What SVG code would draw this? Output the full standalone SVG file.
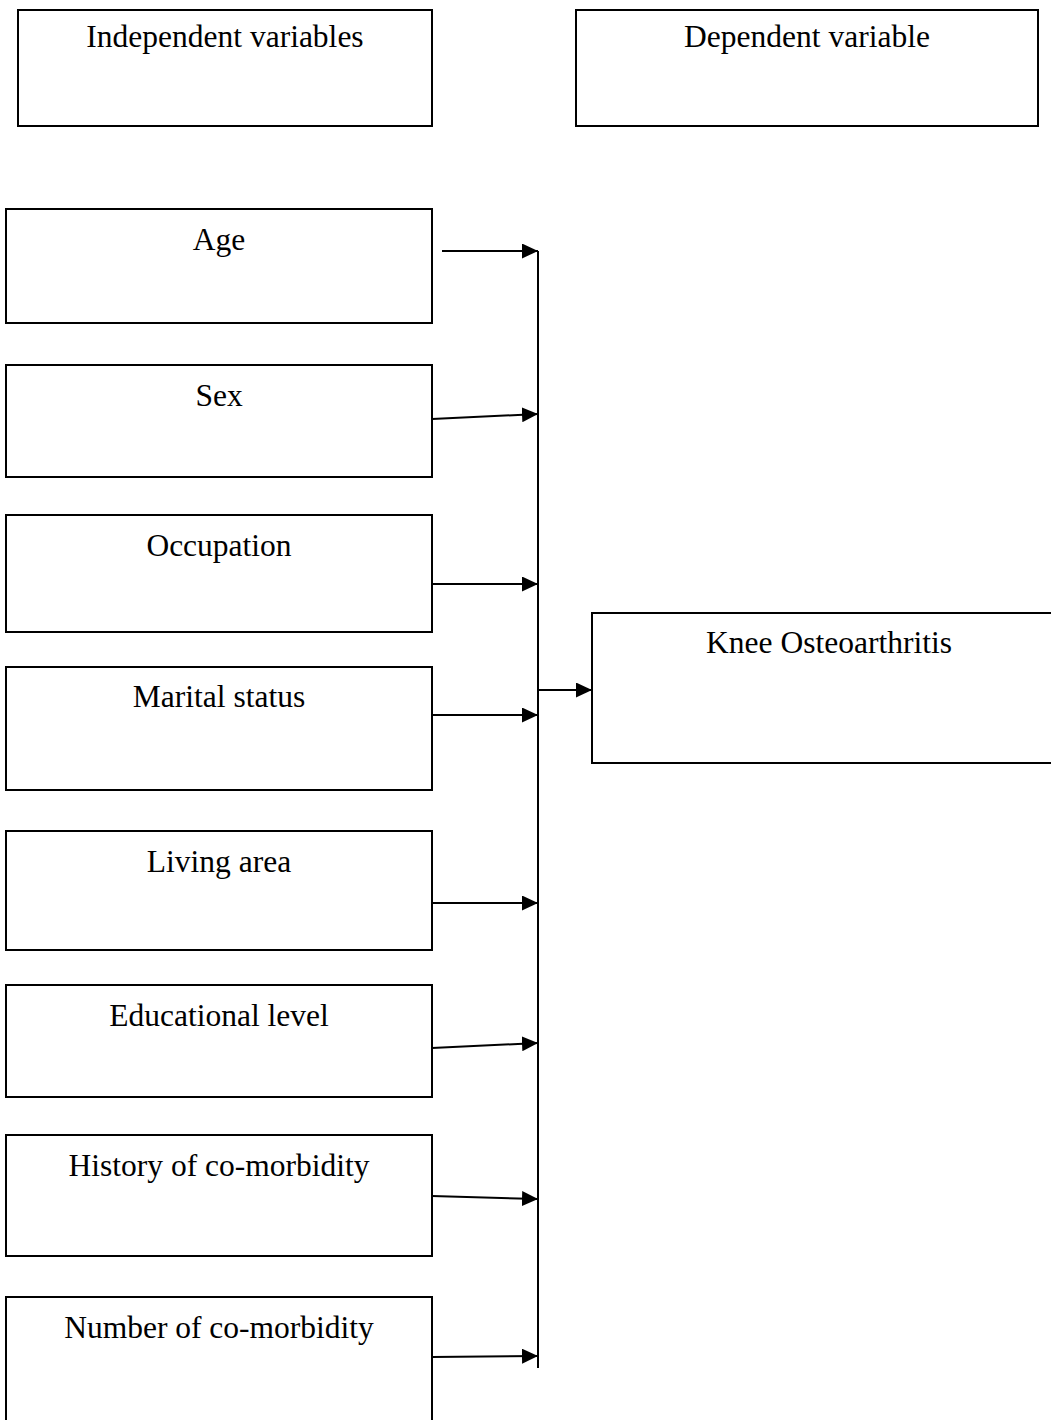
<svg xmlns="http://www.w3.org/2000/svg" width="1051" height="1420" viewBox="0 0 1051 1420">
<defs>
<marker id="ah" viewBox="0 0 10 10" refX="10" refY="5" markerWidth="16" markerHeight="15" markerUnits="userSpaceOnUse" orient="auto" preserveAspectRatio="none">
<path d="M0,0 L10,5 L0,10 z" fill="#000"/>
</marker>
<style>
.box{fill:#fff;stroke:#000;stroke-width:2}
.t{font-family:"Liberation Serif","Times New Roman",serif;font-size:31.5px;fill:#000;text-anchor:middle}
.c{stroke:#000;stroke-width:2;fill:none}
.a{stroke:#000;stroke-width:2;fill:none;marker-end:url(#ah)}
</style>
</defs>
<rect width="1051" height="1420" fill="#fff"/>
<g id="n-independent"><rect class="box" x="18" y="10" width="414" height="116"/><text class="t" x="225" y="47">Independent variables</text></g>
<g id="n-dependent"><rect class="box" x="576" y="10" width="462" height="116"/><text class="t" x="807" y="47">Dependent variable</text></g>
<g id="n-age"><rect class="box" x="6" y="209" width="426" height="114"/><text class="t" x="219" y="250">Age</text></g>
<g id="n-sex"><rect class="box" x="6" y="365" width="426" height="112"/><text class="t" x="219" y="406">Sex</text></g>
<g id="n-occupation"><rect class="box" x="6" y="515" width="426" height="117"/><text class="t" x="219" y="556">Occupation</text></g>
<g id="n-marital"><rect class="box" x="6" y="667" width="426" height="123"/><text class="t" x="219" y="707">Marital status</text></g>
<g id="n-living"><rect class="box" x="6" y="831" width="426" height="119"/><text class="t" x="219" y="872">Living area</text></g>
<g id="n-education"><rect class="box" x="6" y="985" width="426" height="112"/><text class="t" x="219" y="1026">Educational level</text></g>
<g id="n-history"><rect class="box" x="6" y="1135" width="426" height="121"/><text class="t" x="219" y="1176">History of co-morbidity</text></g>
<g id="n-number"><rect class="box" x="6" y="1297" width="426" height="140"/><text class="t" x="219" y="1338">Number of co-morbidity</text></g>
<g id="n-knee"><rect class="box" x="592" y="613" width="470" height="150"/><text class="t" x="829" y="653">Knee Osteoarthritis</text></g>
<g id="connectors">
<line class="c" x1="538" y1="251" x2="538" y2="1368"/>
<line class="a" x1="442" y1="251" x2="538" y2="251"/>
<line class="a" x1="432" y1="419" x2="538" y2="414"/>
<line class="a" x1="432" y1="584" x2="538" y2="584"/>
<line class="a" x1="432" y1="715" x2="538" y2="715"/>
<line class="a" x1="432" y1="903" x2="538" y2="903"/>
<line class="a" x1="432" y1="1048" x2="538" y2="1043"/>
<line class="a" x1="432" y1="1196" x2="538" y2="1199"/>
<line class="a" x1="432" y1="1357" x2="538" y2="1356"/>
<line class="a" x1="538" y1="690" x2="592" y2="690"/>
</g>
</svg>
